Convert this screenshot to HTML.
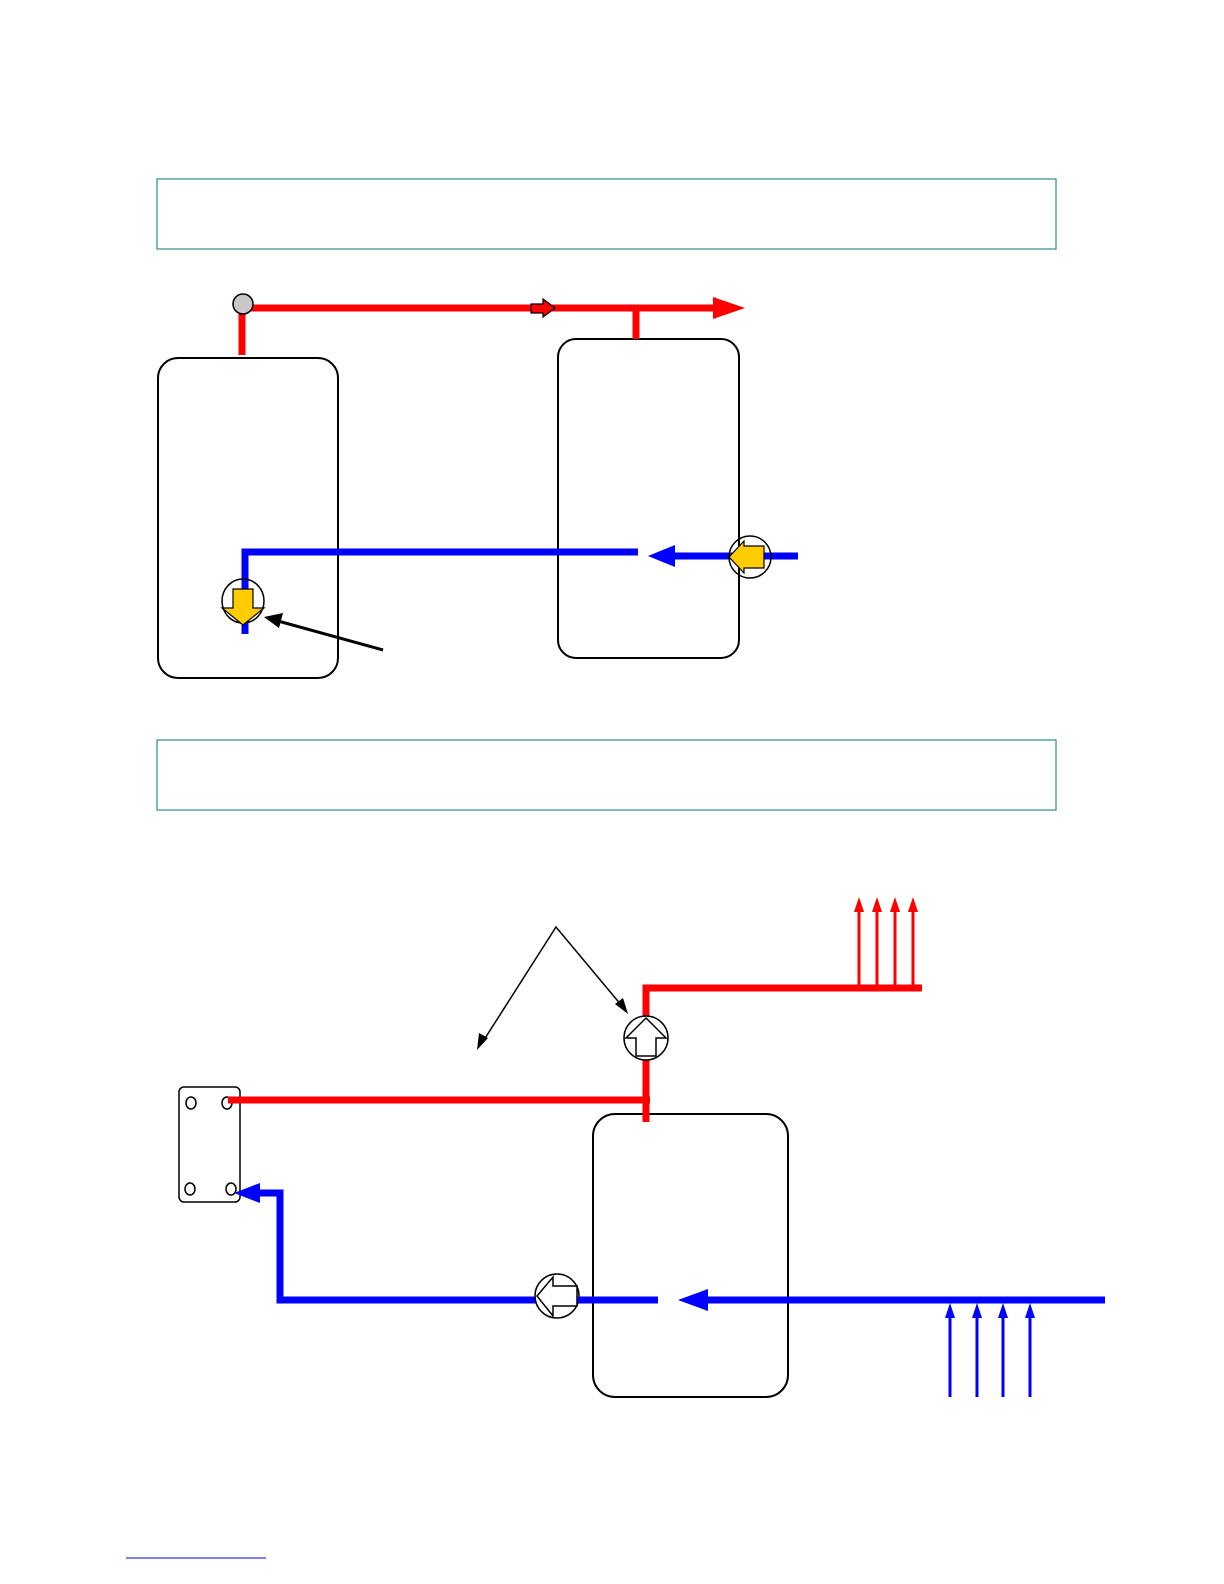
<!DOCTYPE html>
<html><head><meta charset="utf-8"><style>html,body{margin:0;padding:0;background:#fff}svg{display:block}</style></head>
<body>
<svg width="1224" height="1584" viewBox="0 0 1224 1584" xmlns="http://www.w3.org/2000/svg">
<rect x="157" y="179" width="899" height="70" fill="none" stroke="#2e8b8b" stroke-width="1.2"/>
<rect x="157" y="740" width="899" height="70" fill="none" stroke="#2e8b8b" stroke-width="1.2"/>
<line x1="126" y1="1558" x2="266" y2="1558" stroke="#0000ee" stroke-width="1"/>

<!-- top section -->
<rect x="158" y="358" width="180" height="320" rx="20" fill="none" stroke="#000" stroke-width="2"/>
<rect x="558" y="339" width="181" height="319" rx="18" fill="none" stroke="#000" stroke-width="2"/>
<line x1="242" y1="312" x2="242" y2="355" stroke="#f00" stroke-width="7"/>
<line x1="250" y1="308" x2="716" y2="308" stroke="#f00" stroke-width="7"/>
<polygon points="713,297 745,308 713,319" fill="#f00"/>
<line x1="636" y1="308" x2="636" y2="339" stroke="#f00" stroke-width="7"/>
<polygon points="531,304 543,304 543,299 555,308 543,317 543,313 531,313" fill="#f00" stroke="#000" stroke-width="1.2"/>
<circle cx="243" cy="304" r="10" fill="#c8c8c8" stroke="#000" stroke-width="1.5"/>
<polyline points="638,552 245,552 245,634" fill="none" stroke="#00f" stroke-width="7"/>
<polygon points="648,556 675,545 675,567" fill="#00f"/>
<line x1="674" y1="556" x2="798" y2="556" stroke="#00f" stroke-width="7"/>
<ellipse cx="750" cy="557" rx="21" ry="21" fill="none" stroke="#000" stroke-width="1.5"/>
<polygon points="729,557 744,541 744,546 764,546 764,568 744,568 744,573" fill="#ffcc00" stroke="#000" stroke-width="1.2"/>
<ellipse cx="243" cy="601" rx="21" ry="22" fill="none" stroke="#000" stroke-width="1.5"/>
<polygon points="233,594 233,589 253,589 253,608 264,608 243,625 222,608 233,608" fill="#ffcc00" stroke="#000" stroke-width="1.2"/>
<line x1="383" y1="650" x2="278" y2="621" stroke="#000" stroke-width="3"/>
<polygon points="264,617 283,613 279,628" fill="#000"/>

<!-- bottom section -->
<rect x="593" y="1114" width="195" height="283" rx="22" fill="none" stroke="#000" stroke-width="2"/>
<rect x="179" y="1087" width="61" height="115" rx="5" fill="none" stroke="#000" stroke-width="1.5"/>
<ellipse cx="191" cy="1103" rx="5" ry="6" fill="none" stroke="#000" stroke-width="1.5"/>
<ellipse cx="227" cy="1103" rx="5" ry="6" fill="none" stroke="#000" stroke-width="1.5"/>
<ellipse cx="190" cy="1189" rx="5" ry="6" fill="none" stroke="#000" stroke-width="1.5"/>
<ellipse cx="231" cy="1189" rx="5" ry="6" fill="none" stroke="#000" stroke-width="1.5"/>
<line x1="228" y1="1100" x2="650" y2="1100" stroke="#f00" stroke-width="7"/>
<polyline points="646,1122 646,988 922,988" fill="none" stroke="#f00" stroke-width="7"/>
<g stroke="#f00" stroke-width="3">
<line x1="859" y1="988" x2="859" y2="908"/><line x1="877" y1="988" x2="877" y2="908"/>
<line x1="895" y1="988" x2="895" y2="908"/><line x1="913" y1="988" x2="913" y2="908"/>
</g>
<g fill="#f00">
<polygon points="859,897 854,912 864,912"/><polygon points="877,897 872,912 882,912"/>
<polygon points="895,897 890,912 900,912"/><polygon points="913,897 908,912 918,912"/>
</g>
<ellipse cx="646" cy="1038" rx="22" ry="22" fill="#fff" stroke="#000" stroke-width="1.5"/>
<polygon points="646,1018 666,1038 656,1038 656,1056 636,1056 636,1038 626,1038" fill="#fff" stroke="#000" stroke-width="1.5"/>
<polyline points="658,1300 280,1300 280,1193 258,1193" fill="none" stroke="#00f" stroke-width="7"/>
<polygon points="234,1193 260,1183 260,1203" fill="#00f"/>
<ellipse cx="557" cy="1296" rx="22" ry="22" fill="#fff" stroke="#000" stroke-width="1.5"/>
<line x1="576" y1="1300" x2="590" y2="1300" stroke="#00f" stroke-width="7"/>
<polygon points="537,1296 553,1277 553,1286 577,1286 577,1306 553,1306 553,1316" fill="#fff" stroke="#000" stroke-width="1.5"/>
<polygon points="678,1300 708,1289 708,1311" fill="#00f"/>
<line x1="706" y1="1300" x2="1105" y2="1300" stroke="#00f" stroke-width="7"/>
<g stroke="#00f" stroke-width="3">
<line x1="950" y1="1397" x2="950" y2="1314"/><line x1="977" y1="1397" x2="977" y2="1314"/>
<line x1="1003" y1="1397" x2="1003" y2="1314"/><line x1="1030" y1="1397" x2="1030" y2="1314"/>
</g>
<g fill="#00f">
<polygon points="950,1303 945,1318 955,1318"/><polygon points="977,1303 972,1318 982,1318"/>
<polygon points="1003,1303 998,1318 1008,1318"/><polygon points="1030,1303 1025,1318 1035,1318"/>
</g>
<polyline points="482,1043 556,927 622,1006" fill="none" stroke="#000" stroke-width="1.5"/>
<polygon points="477,1050 479,1033 488,1038" fill="#000"/>
<polygon points="628,1014 615,1004 623,998" fill="#000"/>
</svg>
</body></html>
